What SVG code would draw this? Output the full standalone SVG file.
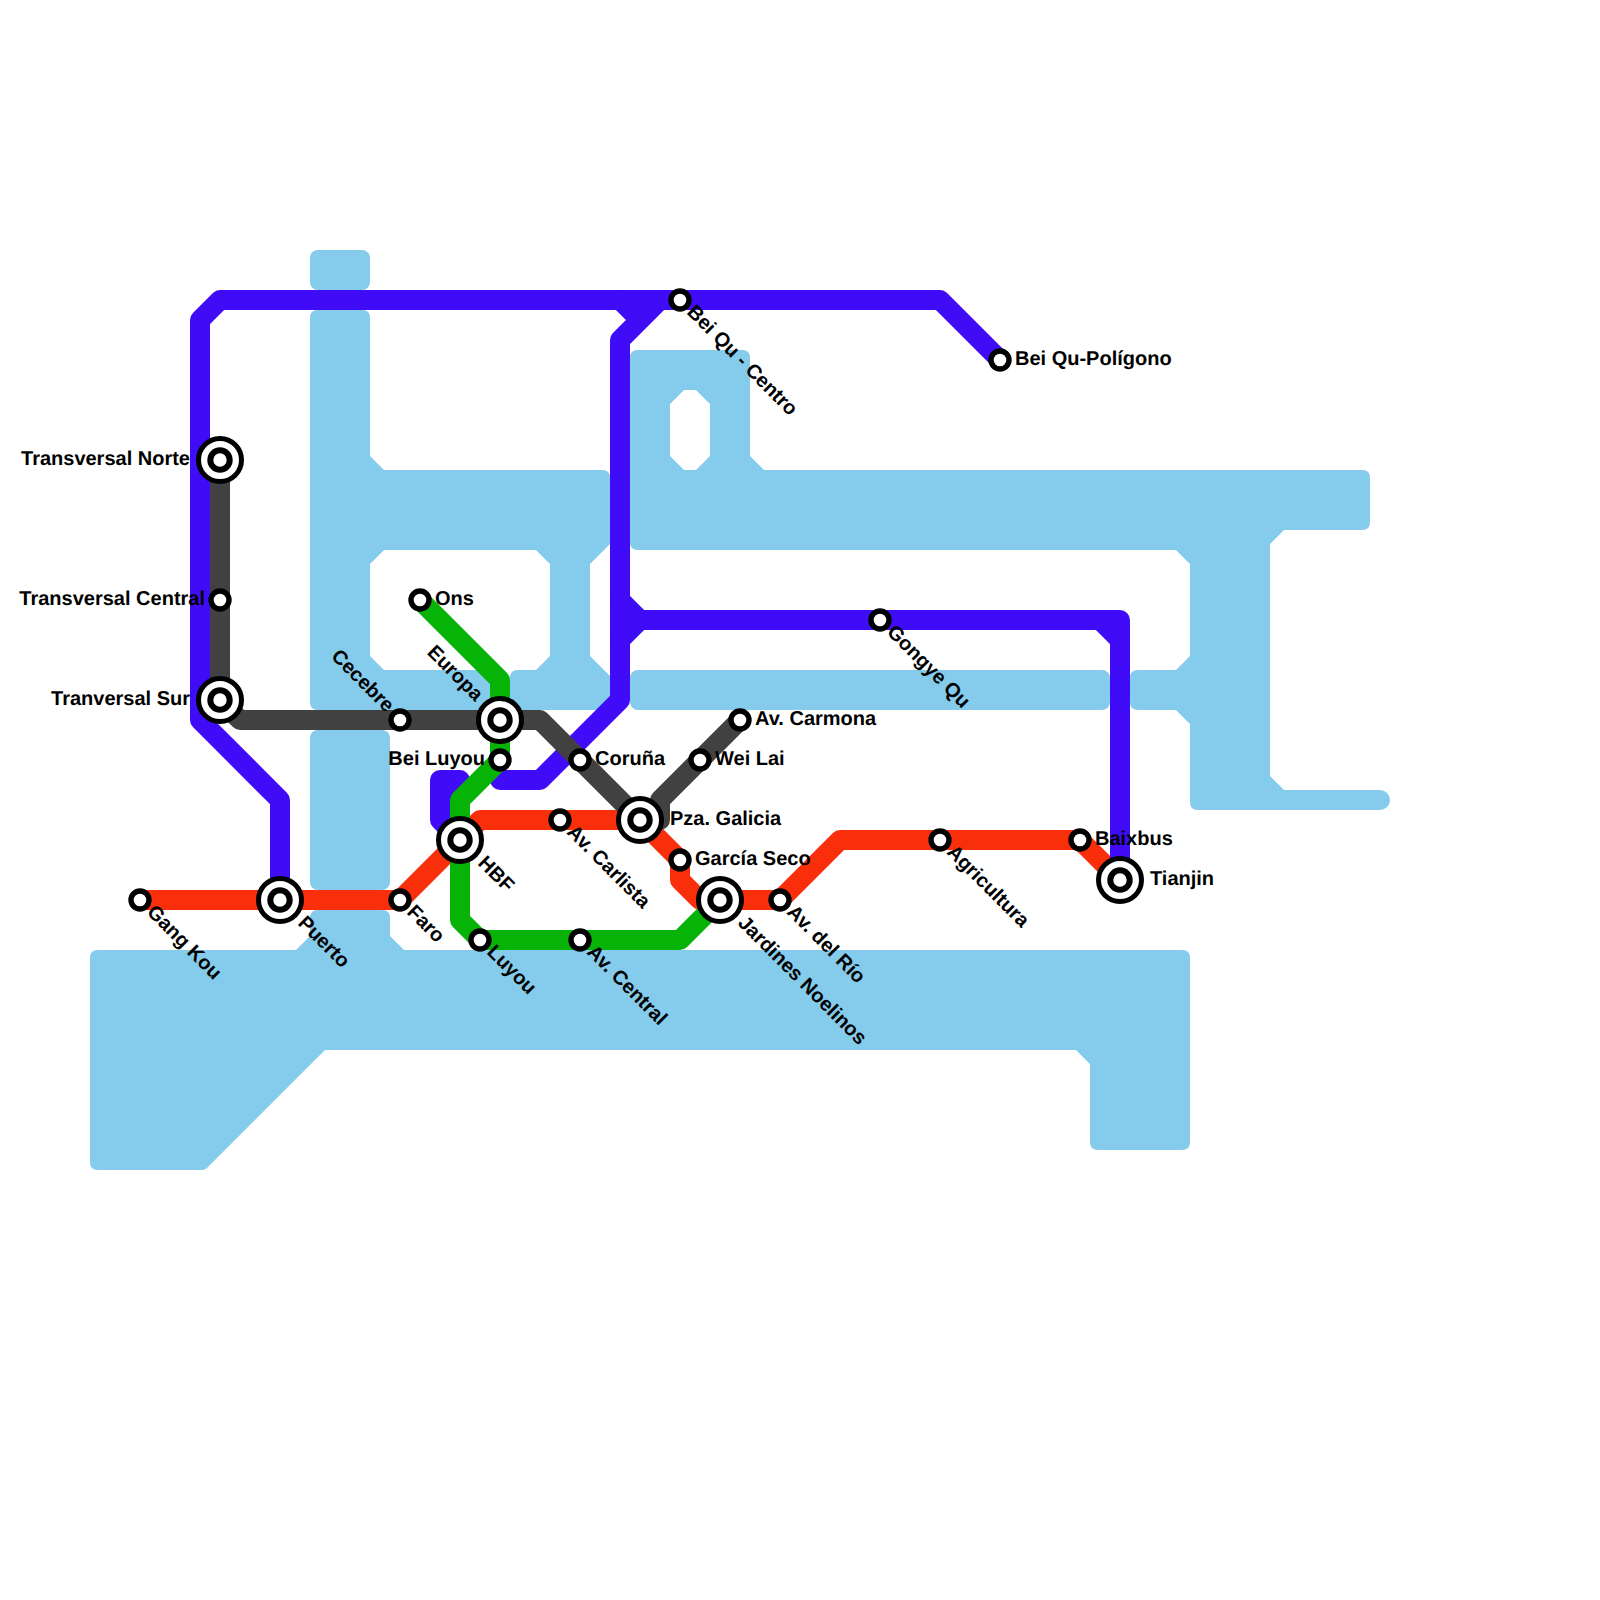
<svg xmlns="http://www.w3.org/2000/svg" width="1600" height="1600" viewBox="0 0 1600 1600">
<style>
.w{fill:#84CBEC;fill-rule:evenodd}
.l{fill:none;stroke-width:20;stroke-linejoin:round;stroke-linecap:round}
.r{stroke:#F92F0C}.p{stroke:#400BF6}.g{stroke:#08B308}.k{stroke:#414141}
.s circle{fill:#fff;stroke:#000;stroke-width:5.4}
.s circle.o{stroke-width:5}
.s circle.i{stroke-width:6}
text{font-family:"Liberation Sans",Arial,sans-serif;font-size:20px;font-weight:700;fill:#000;text-rendering:geometricPrecision}
.e{text-anchor:end}
</style>
<rect width="1600" height="1600" fill="#fff"/>
<g id="water">
<rect class="w" x="310" y="250" width="60" height="40" rx="8"/>
<path class="w" d="M310,318Q310,310 318,310H362Q370,310 370,318V456L384,470H602Q610,470 610,478V544L590,564V656L610,676V702Q610,710 602,710H518Q510,710 510,702V678Q510,670 518,670H536L550,656V564L536,550H384L370,564V656L384,670H492Q500,670 500,678V702Q500,710 492,710H318Q310,710 310,702Z"/>
<path class="w" d="M630,358Q630,350 638,350H742Q750,350 750,358V456L764,470H1362Q1370,470 1370,478V522Q1370,530 1362,530H1284L1270,544V776L1284,790H1380A10,10 0 0 1 1380,810H1198Q1190,810 1190,802V724L1176,710H1138Q1130,710 1130,702V678Q1130,670 1138,670H1176L1190,656V564L1176,550H638Q630,550 630,542ZM684,390H696L710,404V456L696,470H684L670,456V404Z"/>
<rect class="w" x="630" y="670" width="480" height="40" rx="8"/>
<rect class="w" x="310" y="730" width="80" height="160" rx="8"/>
<path class="w" d="M318,910H382Q390,910 390,918V936L404,950H1182Q1190,950 1190,958V1142Q1190,1150 1182,1150H1098Q1090,1150 1090,1142V1064L1076,1050H325L207,1168Q205,1170 202,1170H98Q90,1170 90,1162V958Q90,950 98,950H296L310,936V918Q310,910 318,910Z"/>
</g>
<g id="connectors">
<path class="l r" d="M140,900H400L460,840L480,820H640L680,860V880L700,900H780L840,840H1080L1120,880"/>
<path class="l p" d="M1000,360L940,300H220L200,320V720L280,800V900"/>
<path class="l p" d="M620,300L640,320L660,300H680M640,320L620,340V700L540,780H500"/>
<path class="l p" d="M620,600L640,620L620,640M640,620H1120V880M1100,620L1120,640"/>
<path class="l p" d="M440,820V780H460L440,800V820L460,840"/>
<path class="l g" d="M420,600L500,680V760L460,800V920L480,940H680L720,900"/>
<path class="l k" d="M220,460V700L240,720H540L640,820"/>
<path class="l k" d="M740,720L660,800V820H640"/>
</g>
<g id="gang-kou" class="s"><circle cx="140" cy="900" r="9"/><text transform="translate(146,913) rotate(45)">Gang Kou</text></g>
<g id="puerto" class="s"><circle class="o" cx="280" cy="900" r="21.5"/><circle class="i" cx="280" cy="900" r="9.7"/><text transform="translate(297,924) rotate(45)">Puerto</text></g>
<g id="faro" class="s"><circle cx="400" cy="900" r="9"/><text transform="translate(406,913) rotate(45)">Faro</text></g>
<g id="hbf" class="s"><circle class="o" cx="460" cy="840" r="21.5"/><circle class="i" cx="460" cy="840" r="9.7"/><text transform="translate(477,864) rotate(45)">HBF</text></g>
<g id="luyou" class="s"><circle cx="480" cy="940" r="9"/><text transform="translate(486,953) rotate(45)">Luyou</text></g>
<g id="av-central" class="s"><circle cx="580" cy="940" r="9"/><text transform="translate(586,953) rotate(45)">Av. Central</text></g>
<g id="jardines" class="s"><circle class="o" cx="720" cy="900" r="21.5"/><circle class="i" cx="720" cy="900" r="9.7"/><text transform="translate(737,924) rotate(45)">Jardines Noelinos</text></g>
<g id="av-del-rio" class="s"><circle cx="780" cy="900" r="9"/><text transform="translate(786,913) rotate(45)">Av. del Río</text></g>
<g id="garcia-seco" class="s"><circle cx="680" cy="860" r="9"/><text x="695" y="865">García Seco</text></g>
<g id="pza-galicia" class="s"><circle class="o" cx="640" cy="820" r="21.5"/><circle class="i" cx="640" cy="820" r="9.7"/><text x="670" y="825">Pza. Galicia</text></g>
<g id="av-carlista" class="s"><circle cx="560" cy="820" r="9"/><text transform="translate(566,833) rotate(45)">Av. Carlista</text></g>
<g id="coruna" class="s"><circle cx="580" cy="760" r="9"/><text x="595" y="765">Coruña</text></g>
<g id="wei-lai" class="s"><circle cx="700" cy="760" r="9"/><text x="715" y="765">Wei Lai</text></g>
<g id="av-carmona" class="s"><circle cx="740" cy="720" r="9"/><text x="755" y="725">Av. Carmona</text></g>
<g id="europa" class="s"><circle class="o" cx="500" cy="720" r="21.5"/><circle class="i" cx="500" cy="720" r="9.7"/><text class="e" transform="translate(475,702) rotate(45)">Europa</text></g>
<g id="bei-luyou" class="s"><circle cx="500" cy="760" r="9"/><text class="e" x="485" y="765">Bei Luyou</text></g>
<g id="cecebre" class="s"><circle cx="400" cy="720" r="9"/><text class="e" transform="translate(386,713) rotate(45)">Cecebre</text></g>
<g id="ons" class="s"><circle cx="420" cy="600" r="9"/><text x="435" y="605">Ons</text></g>
<g id="transversal-norte" class="s"><circle class="o" cx="220" cy="460" r="21.5"/><circle class="i" cx="220" cy="460" r="9.7"/><text class="e" x="190" y="465">Transversal Norte</text></g>
<g id="transversal-central" class="s"><circle cx="220" cy="600" r="9"/><text class="e" x="205" y="605">Transversal Central</text></g>
<g id="tranversal-sur" class="s"><circle class="o" cx="220" cy="700" r="21.5"/><circle class="i" cx="220" cy="700" r="9.7"/><text class="e" x="190" y="705">Tranversal Sur</text></g>
<g id="bei-qu-centro" class="s"><circle cx="680" cy="300" r="9"/><text transform="translate(686,313) rotate(45)">Bei Qu - Centro</text></g>
<g id="bei-qu-poligono" class="s"><circle cx="1000" cy="360" r="9"/><text x="1015" y="365">Bei Qu-Polígono</text></g>
<g id="gongye-qu" class="s"><circle cx="880" cy="620" r="9"/><text transform="translate(886,633) rotate(45)">Gongye Qu</text></g>
<g id="agricultura" class="s"><circle cx="940" cy="840" r="9"/><text transform="translate(946,853) rotate(45)">Agricultura</text></g>
<g id="baixbus" class="s"><circle cx="1080" cy="840" r="9"/><text x="1095" y="845">Baixbus</text></g>
<g id="tianjin" class="s"><circle class="o" cx="1120" cy="880" r="21.5"/><circle class="i" cx="1120" cy="880" r="9.7"/><text x="1150" y="885">Tianjin</text></g>
</svg>
